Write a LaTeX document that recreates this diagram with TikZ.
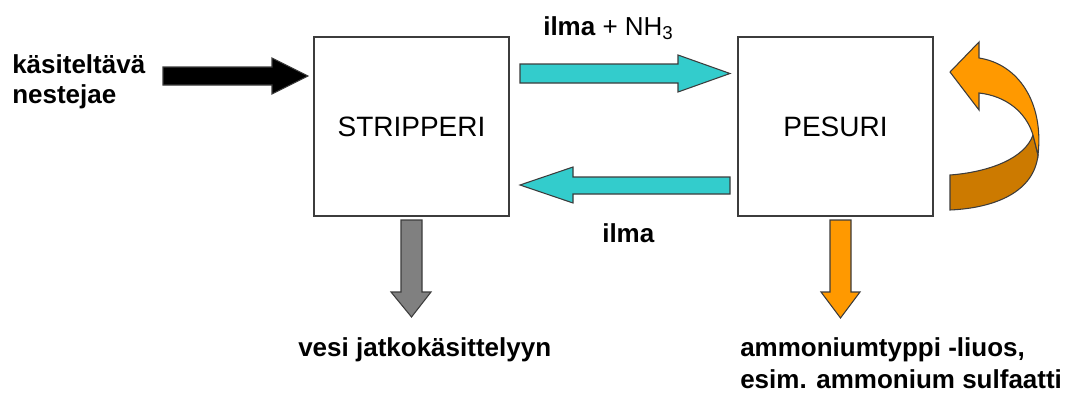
\documentclass[tikz,border=0pt]{standalone}
\usepackage{fontspec}
\setmainfont{Liberation Sans}
\definecolor{edge}{HTML}{3C3C3C}
\definecolor{aircyan}{HTML}{33CCCC}
\definecolor{salt}{HTML}{FF9900}
\definecolor{saltdark}{HTML}{CC7A00}
\definecolor{water}{HTML}{808080}
\tikzset{
  unit/.style={draw=edge, line width=1.1pt, fill=white, inner sep=0pt,
    minimum width=146.25pt, minimum height=134.25pt,
    font=\fontsize{21}{25}\selectfont},
  lbl/.style={inner sep=0pt, anchor=base west, font=\bfseries\fontsize{19.5}{23}\selectfont},
  blk/.style={draw=edge, line width=0.8pt, line join=miter},
}
\begin{document}
\begin{tikzpicture}[x=0.75pt,y=-0.75pt]
\useasboundingbox (0,0) rectangle (1066,396);

% process units
\node[unit] (strip) at (411.5,126.5) {STRIPPERI};
\node[unit] (pesu) at (835.5,126.5) {PESURI};

% feed liquid into the stripper
\filldraw[blk, fill=black] (163,67) -- (272,67) -- (272,58) -- (308,76)
  -- (272,94) -- (272,85) -- (163,85) -- cycle;
\node[lbl] (feed1) at (12,73) {käsiteltävä};
\node[lbl] (feed2) at (12,103) {nestejae};

% air + ammonia to the scrubber
\filldraw[blk, fill=aircyan] (520,64) -- (678,64) -- (678,55) -- (730,73.5)
  -- (678,92) -- (678,83) -- (520,83) -- cycle;
\node[lbl] (gasin) at (543,35) {ilma \mdseries+ NH\raisebox{-0.3ex}{\fontsize{14}{16}\selectfont 3}};

% cleaned air back to the stripper
\filldraw[blk, fill=aircyan] (730,177) -- (573,177) -- (573,167) -- (520,185)
  -- (573,203) -- (573,194) -- (730,194) -- cycle;
\node[lbl] (gasout) at (602,242) {ilma};

% treated water out
\filldraw[blk, fill=water] (401,220) -- (422,220) -- (422,292) -- (431,292)
  -- (411.5,317) -- (391,292) -- (401,292) -- cycle;
\node[lbl] (waterout) at (298,356) {vesi jatkokäsittelyyn};

% ammonium solution out
\filldraw[blk, fill=salt] (830,220) -- (851,220) -- (851,292) -- (860,292)
  -- (840.5,318) -- (821,292) -- (830,292) -- cycle;
\node[lbl] (prod1) at (740,356) {ammoniumtyppi -liuos,};
\node[lbl] (prod2) at (740,388) {esim. ammonium sulfaatti};

% scrubber recirculation loop
\filldraw[blk, fill=saltdark] (950,175) .. controls (990,172) and (1025,158) .. (1033,135)
  -- (1038,155) .. controls (1034,192) and (995,208) .. (950,210) -- cycle;
\filldraw[blk, fill=salt] (950,72) -- (979,42) -- (979,58)
  .. controls (1018,64) and (1044,102) .. (1038,155)
  -- (1033,135) .. controls (1026,112) and (1006,96) .. (979,93)
  -- (979,110) -- cycle;
\end{tikzpicture}
\end{document}
